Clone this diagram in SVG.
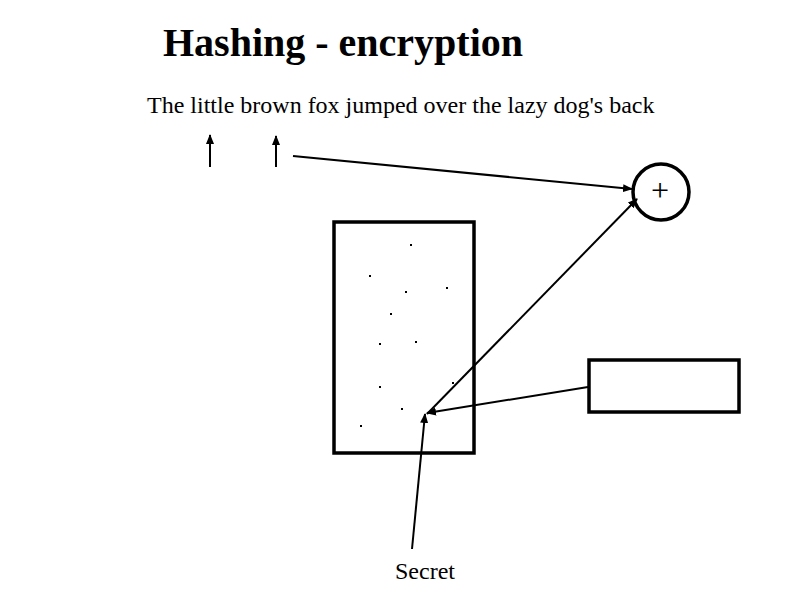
<svg xmlns="http://www.w3.org/2000/svg" width="794" height="595" viewBox="0 0 794 595">
<style>
.t{font-family:"Liberation Serif","Times New Roman",serif;fill:#000}
.ln{stroke:#000;stroke-width:2;fill:none}
.box{stroke:#000;stroke-width:3.5;fill:#fff}
.dot{fill:#000}
</style>
<defs>
<marker id="ah" viewBox="0 0 10 10" refX="9" refY="5" markerWidth="5" markerHeight="5" orient="auto" markerUnits="strokeWidth">
<path d="M0,1 L10,5 L0,9 z" fill="#000"/>
</marker>
</defs>
<rect width="794" height="595" fill="#fff"/>
<text class="t" x="163" y="56" font-size="40" font-weight="bold">Hashing - encryption</text>
<text class="t" x="147" y="113" font-size="24">The little brown fox jumped over the lazy dog's back</text>
<g id="box-main"><rect class="box" x="334" y="222" width="140" height="231"/>
<g class="dot">
<rect x="410" y="244" width="2" height="2"/>
<rect x="369" y="275" width="2" height="2"/>
<rect x="405" y="291" width="2" height="2"/>
<rect x="446" y="287" width="2" height="2"/>
<rect x="390" y="313" width="2" height="2"/>
<rect x="379" y="343" width="2" height="2"/>
<rect x="415" y="341" width="2" height="2"/>
<rect x="452" y="382" width="2" height="2"/>
<rect x="379" y="386" width="2" height="2"/>
<rect x="401" y="408" width="2" height="2"/>
<rect x="360" y="425" width="2" height="2"/>
</g></g>
<g id="box-right"><rect class="box" x="589" y="360" width="150" height="52"/></g>
<g id="circle-plus"><circle cx="661" cy="192" r="28" stroke="#000" stroke-width="3.5" fill="#fff"/>
<text class="t" x="660" y="201" font-size="32" text-anchor="middle">+</text></g>
<g id="label-secret"><text class="t" x="425" y="579" font-size="24" text-anchor="middle">Secret</text></g>
<g id="connectors">
<line class="ln" x1="210" y1="167" x2="210" y2="135" marker-end="url(#ah)"/>
<line class="ln" x1="276" y1="167" x2="276" y2="136" marker-end="url(#ah)"/>
<line class="ln" x1="293" y1="156" x2="632" y2="189" marker-end="url(#ah)"/>
<line class="ln" x1="427" y1="414" x2="637" y2="199" marker-end="url(#ah)"/>
<line class="ln" x1="588" y1="387" x2="427" y2="413" marker-end="url(#ah)"/>
<line class="ln" x1="412" y1="549" x2="425" y2="414" marker-end="url(#ah)"/>
</g>
</svg>
